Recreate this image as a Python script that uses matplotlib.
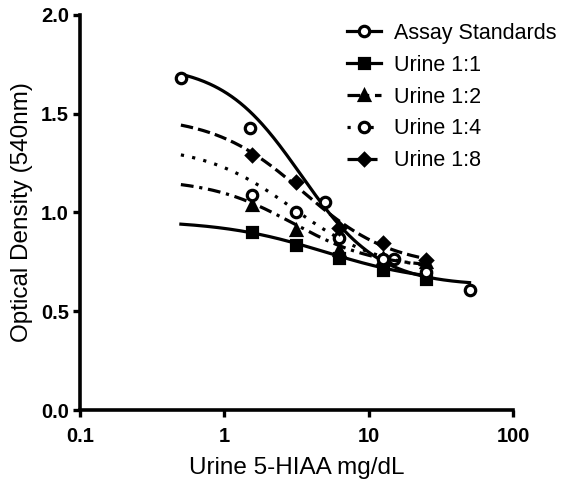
import numpy as np
import matplotlib
matplotlib.use("Agg")
import matplotlib.pyplot as plt
from matplotlib.ticker import FixedLocator, FixedFormatter, NullLocator

plt.rcParams['font.family'] = ['Liberation Sans', 'DejaVu Sans']

# 标准品与尿样稀释数据
std_x = [0.5, 1.5, 5, 15, 50]
std_y = [1.68, 1.43, 1.055, 0.765, 0.61]

urine_x = [1.5625, 3.125, 6.25, 12.5, 25]
urine_1_1 = [0.90, 0.835, 0.77, 0.71, 0.665]
urine_1_2 = [1.04, 0.91, 0.81, 0.77, 0.75]
urine_1_4 = [1.09, 1.00, 0.87, 0.765, 0.70]
urine_1_8 = [1.29, 1.155, 0.92, 0.845, 0.76]

# 四参数拟合曲线参数 (top, bottom, ec50, hill)
fit_std = [1.75, 0.63, 3.4, 1.6]
fit_1_1 = [0.96, 0.64, 5.0, 1.2]
fit_1_2 = [1.17, 0.72, 3.0, 1.5]
fit_1_4 = [1.34, 0.70, 3.0, 1.4]
fit_1_8 = [1.49, 0.72, 3.5, 1.4]

labels = ["Assay Standards", "Urine 1:1", "Urine 1:2", "Urine 1:4", "Urine 1:8"]
x_ticks = [0.1, 1, 10, 100]
y_ticks = [0.0, 0.5, 1.0, 1.5, 2.0]


def four_pl(x, p):
    top, bottom, ec50, hill = p
    return bottom + (top - bottom) / (1 + (x / ec50) ** hill)


fig = plt.figure(figsize=(5.67, 4.86), dpi=100)
ax = fig.add_axes([80 / 567, 1 - 410 / 486, (513 - 80) / 567, (410 - 15) / 486])

lw = 2.3
series = [
    (std_x, std_y, fit_std, (0.5, 50), '-', 'o', 'white'),
    (urine_x, urine_1_1, fit_1_1, (0.5, 25), '-', 's', 'black'),
    (urine_x, urine_1_2, fit_1_2, (0.5, 25), (0, (4.0, 1.8, 1.0, 1.8)), '^', 'black'),
    (urine_x, urine_1_4, fit_1_4, (0.5, 25), (0, (1.0, 2.6)), 'o', 'white'),
    (urine_x, urine_1_8, fit_1_8, (0.5, 25), (0, (3.9, 1.6)), 'D', 'black'),
]

for (xs, ys, p, rng, ls, mk, fc), lab in zip(series, labels):
    xc = np.logspace(np.log10(rng[0]), np.log10(rng[1]), 200)
    ax.plot(xc, four_pl(xc, p), color='black', lw=lw, ls=ls)
    ms = 6 if mk == 'D' else 7.5
    ax.plot(xs, ys, ls='none', marker=mk, ms=ms, mfc=fc, mec='black', mew=2.3)
    # 图例句柄
    ax.plot([], [], color='black', lw=lw, ls=ls, marker=mk, ms=ms,
            mfc=fc, mec='black', mew=2.3, label=lab)

ax.set_xscale('log')
ax.set_xlim(0.1, 100)
ax.set_ylim(0, 2.0)
ax.xaxis.set_major_locator(FixedLocator(x_ticks))
ax.xaxis.set_major_formatter(FixedFormatter([str(t) if t < 1 else str(int(t)) for t in x_ticks]))
ax.xaxis.set_minor_locator(NullLocator())
ax.yaxis.set_major_locator(FixedLocator(y_ticks))
ax.yaxis.set_major_formatter(FixedFormatter([f"{t:.1f}" for t in y_ticks]))

for s in ['top', 'right']:
    ax.spines[s].set_visible(False)
for s in ['left', 'bottom']:
    ax.spines[s].set_linewidth(2.6)
ax.tick_params(width=2.4, length=5, labelsize=14.5)
ax.tick_params(axis='x', pad=7)
ax.tick_params(axis='y', pad=3)
for t in ax.get_xticklabels() + ax.get_yticklabels():
    t.set_fontweight('bold')

ax.set_xlabel("Urine 5-HIAA mg/dL", fontsize=17.5, labelpad=8)
ax.set_ylabel("Optical Density (540nm)", fontsize=17.5, labelpad=6)

ax.legend(loc='upper left', bbox_to_anchor=(347 / 567, 1 - 23 / 486),
          bbox_transform=fig.transFigure, frameon=False, fontsize=15.5,
          handlelength=1.6, handletextpad=0.6, labelspacing=0.5,
          borderpad=0, borderaxespad=0)

fig.savefig("out.png", dpi=100)
